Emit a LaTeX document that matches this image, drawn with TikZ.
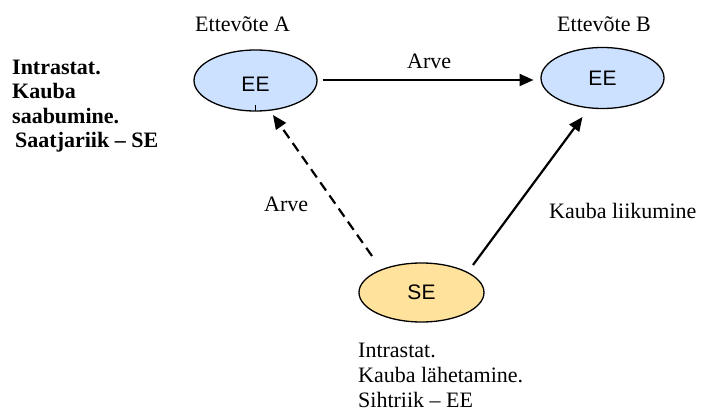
\documentclass[tikz,border=0pt]{standalone}
\usepackage{fontspec}
\setmainfont{Liberation Serif}
\newfontfamily\arialfont{Liberation Sans}
\usetikzlibrary{arrows.meta,calc,shapes.geometric}
\definecolor{eeblue}{RGB}{204,225,255}
\definecolor{seyellow}{RGB}{255,226,155}
\tikzset{
  bubble/.style={ellipse,draw=black,line width=1.3pt,inner sep=0pt,outer sep=0pt,
    minimum width=123pt,minimum height=61pt,font=\arialfont\fontsize{21}{24}\selectfont},
  lbl/.style={inner sep=0pt,anchor=base west,font=\fontsize{22}{25}\selectfont},
  arr/.style={line width=2.2pt,-{Triangle[length=14pt,width=12pt]}},
  dasharr/.style={arr,dash pattern=on 10pt off 6pt}
}
\begin{document}
\begin{tikzpicture}[x=1pt,y=-1pt]
\useasboundingbox (0,0) rectangle (702,414);
\node[bubble,fill=eeblue] (a) at (255.5,80.5) {\raisebox{-4pt}[15pt][0pt]{EE}};
\node[bubble,fill=eeblue] (b) at (602.5,78) {EE};
\node[bubble,fill=seyellow,minimum width=125pt,minimum height=59pt] (se) at (421.5,292.5) {SE};
\draw[line width=0.6pt] ($(a.south)+(0,-6)$) -- (a.south);
\node[lbl] (tA) at (195,32) {Ettevõte A};
\node[lbl] (tB) at (557,32) {Ettevõte B};
\node[lbl,font=\bfseries\fontsize{22}{24.6}\selectfont,align=left] (left) at (12,148)
  {Intrastat.\\Kauba\\saabumine.\\\hspace*{3pt}Saatjariik – SE};
\node[lbl,align=left] (bottom) at (358,407)
  {Intrastat.\\Kauba lähetamine.\\Sihtriik – EE};
\node[lbl] (arve1) at (407,69) {Arve};
\node[lbl] (arve2) at (264,212) {Arve};
\node[lbl] (kl) at (549,219) {Kauba liikumine};
\draw[arr] ($(a.center)+(67,-0.5)$) -- ($(b.center)+(-69,2)$);
\draw[dasharr] ($(se.center)+(-49.5,-36.5)$) -- ($(a.center)+(17.5,34.5)$);
\draw[arr] ($(se.center)+(51.5,-27.5)$) -- ($(b.center)+(-20,39)$);
\end{tikzpicture}
\end{document}
